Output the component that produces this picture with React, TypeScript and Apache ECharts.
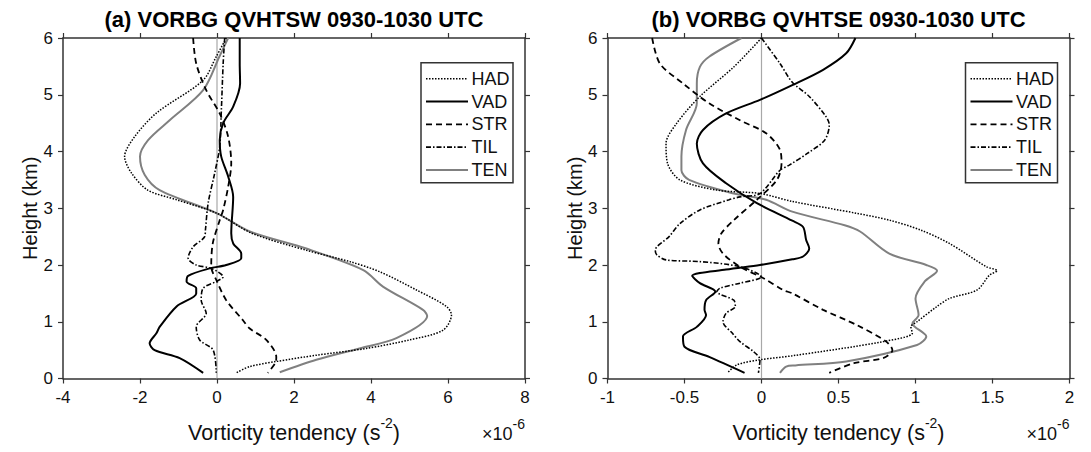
import React, { useEffect, useRef } from "react";
import * as echarts from "echarts";

// ---------- texts ----------
const TITLE_A = "(a) VORBG QVHTSW 0930-1030 UTC";
const TITLE_B = "(b) VORBG QVHTSE 0930-1030 UTC";
const SERIES_NAMES = ["HAD", "VAD", "STR", "TIL", "TEN"];
const Y_NAME = "Height (km)";

// ---------- axis ranges (x in units of 1e-6 s^-2, y in km) ----------
const X_RANGE_A = [-4, 8, 2];
const X_RANGE_B = [-1, 2, 0.5];
const Y_RANGE = [0, 6, 1];

// ---------- panel (a): [value, height] ----------
const HAD_A: [number, number][] = [
  [0.24, 6], [-0.02, 5.67], [-0.37, 5.25], [-1.57, 4.68], [-2.14, 4.26], [-2.4, 3.91],
  [-2.22, 3.62], [-1.8, 3.32], [-1.05, 3.15], [0, 2.91], [0.9, 2.56], [2.32, 2.26],
  [3.45, 2.06], [4.23, 1.88], [5.18, 1.56], [5.96, 1.27], [6.09, 1.12], [5.87, 0.85],
  [5.0, 0.68], [3.88, 0.53], [2.58, 0.41], [1.54, 0.3], [0.85, 0.21], [0.5, 0.1],
];
const VAD_A: [number, number][] = [
  [0.59, 6], [0.59, 5.55], [0.6, 5.2], [0.42, 4.79], [0.16, 4.5], [0.07, 4.2], [0.11, 3.91],
  [0.29, 3.56], [0.42, 3.2], [0.37, 2.56], [0.42, 2.38], [0.63, 2.2], [0.63, 2.12],
  [0.24, 2.0], [-0.19, 1.94], [-0.75, 1.81], [-0.79, 1.71], [-0.54, 1.59], [-0.54, 1.5],
  [-1.05, 1.27], [-1.49, 0.91], [-1.57, 0.8], [-1.75, 0.62], [-1.62, 0.5], [-0.97, 0.36],
  [-0.36, 0.1],
];
const STR_A: [number, number][] = [
  [-0.62, 6], [-0.54, 5.55], [-0.28, 5.08], [0.07, 4.67], [0.29, 4.26], [0.37, 3.79],
  [0.29, 3.38], [0.16, 2.97], [0.07, 2.79], [-0.11, 2.38], [-0.15, 1.97], [-0.02, 1.74],
  [0.24, 1.38], [0.67, 1.03], [0.85, 0.88], [1.28, 0.68], [1.54, 0.38], [1.52, 0.28],
  [1.32, 0.1],
];
const TIL_A: [number, number][] = [
  [0.2, 6], [0.16, 5.55], [0.11, 4.67], [0.07, 4.08], [-0.06, 3.62], [-0.23, 3.09],
  [-0.3, 2.62], [-0.32, 2.5], [-0.62, 2.32], [-0.75, 2.12], [-0.54, 2.0], [-0.15, 1.94],
  [0.16, 1.79], [-0.02, 1.71], [-0.36, 1.59], [-0.41, 1.38], [-0.28, 1.15], [-0.54, 0.91],
  [-0.45, 0.68], [-0.1, 0.5], [-0.02, 0.1],
];
const TEN_A: [number, number][] = [
  [0.29, 6], [0.06, 5.67], [-0.36, 5.08], [-1.23, 4.55], [-1.79, 4.2], [-2.0, 3.91],
  [-1.88, 3.59], [-1.49, 3.32], [0, 2.91], [0.85, 2.59], [2.32, 2.29], [3.8, 1.91],
  [4.31, 1.62], [5.35, 1.21], [5.46, 1.1], [4.66, 0.71], [3.7, 0.53], [2.58, 0.33],
  [1.63, 0.11],
];

// ---------- panel (b): [value, height] ----------
const HAD_B: [number, number][] = [
  [0, 6], [-0.18, 5.49], [-0.4, 4.97], [-0.55, 4.5], [-0.62, 4.14], [-0.61, 3.79],
  [-0.53, 3.5], [-0.29, 3.32], [-0.01, 3.26], [0.2, 3.12], [0.62, 2.91], [0.83, 2.79],
  [1.03, 2.62], [1.22, 2.38], [1.46, 1.97], [1.53, 1.9], [1.48, 1.82], [1.4, 1.56],
  [1.22, 1.41], [1.14, 1.27], [1.01, 1.0], [0.97, 0.91], [0.98, 0.8], [0.79, 0.65],
  [0.2, 0.4], [-0.01, 0.33], [-0.16, 0.24], [-0.22, 0.1],
];
const VAD_B: [number, number][] = [
  [0.61, 6], [0.55, 5.73], [0.4, 5.44], [0.2, 5.17], [-0.01, 4.91], [-0.23, 4.67],
  [-0.38, 4.38], [-0.42, 4.14], [-0.38, 3.79], [-0.23, 3.44], [-0.03, 3.09], [0.2, 2.78],
  [0.27, 2.67], [0.29, 2.44], [0.31, 2.29], [0.27, 2.15], [0.2, 2.1], [-0.01, 2.0],
  [-0.23, 1.92], [-0.45, 1.81], [-0.4, 1.68], [-0.3, 1.53], [-0.36, 1.38], [-0.37, 1.21],
  [-0.36, 1.12], [-0.42, 0.91], [-0.51, 0.74], [-0.5, 0.56], [-0.34, 0.38], [-0.11, 0.1],
];
const STR_B: [number, number][] = [
  [-0.71, 6], [-0.66, 5.55], [-0.51, 5.2], [-0.34, 4.85], [-0.14, 4.55], [0.03, 4.32],
  [0.12, 4.03], [0.13, 3.79], [0.1, 3.5], [-0.03, 3.15], [-0.18, 2.79], [-0.26, 2.56],
  [-0.28, 2.38], [-0.25, 2.2], [-0.14, 1.97], [0.01, 1.77], [0.14, 1.56], [0.2, 1.5],
  [0.4, 1.21], [0.62, 0.94], [0.81, 0.65], [0.85, 0.5], [0.79, 0.36], [0.6, 0.27],
  [0.44, 0.1],
];
const TIL_B: [number, number][] = [
  [0, 6], [0.12, 5.55], [0.2, 5.22], [0.31, 4.97], [0.42, 4.61], [0.44, 4.47], [0.41, 4.2],
  [0.3, 3.97], [0.18, 3.76], [0.12, 3.67], [-0.01, 3.26], [-0.14, 3.2], [-0.21, 3.15],
  [-0.4, 2.97], [-0.53, 2.73], [-0.6, 2.5], [-0.69, 2.26], [-0.68, 2.18], [-0.62, 2.09],
  [-0.4, 2.06], [-0.14, 1.97], [0, 1.79], [-0.14, 1.68], [-0.27, 1.59], [-0.29, 1.53],
  [-0.18, 1.38], [-0.17, 1.27], [-0.23, 1.15], [-0.25, 1.0], [-0.19, 0.8], [-0.14, 0.65],
  [-0.05, 0.47], [-0.01, 0.33], [-0.02, 0.1],
];
const TEN_B: [number, number][] = [
  [-0.13, 6], [-0.34, 5.67], [-0.4, 5.49], [-0.42, 5.2], [-0.42, 4.85], [-0.49, 4.38],
  [-0.52, 3.91], [-0.52, 3.67], [-0.47, 3.5], [-0.18, 3.26], [0.03, 3.15], [0.2, 2.94],
  [0.54, 2.7], [0.64, 2.59], [0.83, 2.2], [1.07, 2.0], [1.14, 1.9], [1.06, 1.71],
  [1.0, 1.41], [1.02, 1.12], [0.98, 0.97], [1.07, 0.74], [1.01, 0.59], [0.55, 0.3],
  [0.22, 0.23], [0.16, 0.21], [0.12, 0.1],
];

const ZERO_LINE: [number, number][] = [[0, 0], [0, 6]];

const FONT = "'Liberation Sans', Arial, Helvetica, sans-serif";

const LINE_STYLES: Record<string, any> = {
  HAD: { color: "#000", width: 1.5, type: [1.5, 1.5] },
  VAD: { color: "#000", width: 2, type: "solid" },
  STR: { color: "#000", width: 1.8, type: [6, 4] },
  TIL: { color: "#000", width: 1.6, type: [5, 2, 1.5, 2] },
  TEN: { color: "#808080", width: 2, type: "solid" },
};

const GRID_TOP = 38;
const GRID_H = 340.5;
const GRID_W = 462;
const GRID_LEFTS = [63, 607.5];

export default function App() {
  const ref = useRef<HTMLDivElement>(null);

  useEffect(() => {
    document.body.style.margin = "0";
    const chart = echarts.init(ref.current!, null, { renderer: "svg" });

    const axisLine = { show: true, onZero: false, lineStyle: { color: "#333", width: 1.5 } };
    const axisTick = { show: true, inside: false, length: 5, lineStyle: { color: "#333", width: 1.2 } };
    const tickLabel = { color: "#111", fontSize: 17, fontFamily: FONT };

    const xRanges = [X_RANGE_A, X_RANGE_B];
    const xAxes: any[] = [];
    const yAxes: any[] = [];
    [0, 1].forEach((g) => {
      const r = xRanges[g];
      xAxes.push({
        type: "value", gridIndex: g, position: "bottom", min: r[0], max: r[1], interval: r[2],
        axisLine, axisTick, splitLine: { show: false },
        axisLabel: { ...tickLabel, margin: 10 },
      });
      yAxes.push({
        type: "value", gridIndex: g, position: "left", min: Y_RANGE[0], max: Y_RANGE[1], interval: Y_RANGE[2],
        axisLine, axisTick, splitLine: { show: false },
        axisLabel: { ...tickLabel, margin: 10 },
      });
    });
    [0, 1].forEach((g) => {
      const r = xRanges[g];
      xAxes.push({
        type: "value", gridIndex: g, position: "top", min: r[0], max: r[1], interval: r[2],
        axisLine, axisTick, splitLine: { show: false }, axisLabel: { show: false },
      });
      yAxes.push({
        type: "value", gridIndex: g, position: "right", min: Y_RANGE[0], max: Y_RANGE[1],
        interval: Y_RANGE[2], axisLine, axisTick, splitLine: { show: false },
        axisLabel: { show: false },
      });
    });

    const panels = [
      { HAD: HAD_A, VAD: VAD_A, STR: STR_A, TIL: TIL_A, TEN: TEN_A },
      { HAD: HAD_B, VAD: VAD_B, STR: STR_B, TIL: TIL_B, TEN: TEN_B },
    ];
    const series: any[] = [];
    panels.forEach((p: any, g) => {
      series.push({
        type: "line", name: "zero" + g, xAxisIndex: g, yAxisIndex: g, data: ZERO_LINE,
        showSymbol: false, symbol: "none", z: 1, silent: true,
        lineStyle: { color: "#a8a8a8", width: 1.2 },
      });
      ["TEN", "STR", "TIL", "HAD", "VAD"].forEach((n) => {
        series.push({
          type: "line", name: n, xAxisIndex: g, yAxisIndex: g, data: p[n],
          showSymbol: false, symbol: "none", smooth: 0.3, z: 3,
          lineStyle: LINE_STYLES[n],
        });
      });
    });

    const supRich = (mainSize: number) => ({
      m: { fontSize: mainSize, fontFamily: FONT, lineHeight: 34, verticalAlign: "middle", fill: "#111" },
      s: { fontSize: 14, fontFamily: FONT, lineHeight: 14, verticalAlign: "top", fill: "#111" },
    });

    // graphic: titles, labels, legends
    const graphics: any[] = [];
    const titles = [TITLE_A, TITLE_B];
    [0, 1].forEach((g) => {
      const left = GRID_LEFTS[g];
      const cx = left + GRID_W / 2;
      graphics.push({
        type: "text", x: cx, y: 19,
        style: {
          text: titles[g], fill: "#000", font: `bold 22px ${FONT}`,
          textAlign: "center", textVerticalAlign: "middle", verticalAlign: "middle",
        },
      });
      graphics.push({
        type: "text", x: left - 33, y: GRID_TOP + GRID_H / 2, rotation: Math.PI / 2,
        style: {
          text: Y_NAME, fill: "#111", font: `20px ${FONT}`,
          textAlign: "center", textVerticalAlign: "middle", verticalAlign: "middle",
        },
      });
      graphics.push({
        type: "text", x: cx, y: 415.5,
        style: {
          text: "{m|Vorticity tendency (s}{s|-2}{m|)}",
          fill: "#111", textAlign: "center", textVerticalAlign: "top", verticalAlign: "top",
          rich: supRich(21.5),
        },
      });
      graphics.push({
        type: "text", x: left + GRID_W, y: 416.5,
        style: {
          text: "{m|\u00d710}{s|-6}",
          fill: "#111", textAlign: "right", textVerticalAlign: "top", verticalAlign: "top",
          rich: supRich(18),
        },
      });
      // legend
      const lx = left + GRID_W - 104;
      const ly = 62.7;
      const children: any[] = [
        {
          type: "rect", shape: { x: 0, y: 0, width: 92, height: 120 },
          style: { fill: "#fff", stroke: "#333", lineWidth: 1.5 },
        },
      ];
      SERIES_NAMES.forEach((n, i) => {
        const yy = 16 + i * 22.8;
        const ls = LINE_STYLES[n];
        children.push({
          type: "line", shape: { x1: 5, y1: yy, x2: 47, y2: yy },
          style: {
            stroke: ls.color, lineWidth: ls.width,
            lineDash: Array.isArray(ls.type) ? ls.type : null,
          },
        });
        children.push({
          type: "text", x: 50.5, y: yy,
          style: {
            text: n, fill: "#111", font: `18px ${FONT}`,
            textAlign: "left", textVerticalAlign: "middle", verticalAlign: "middle",
          },
        });
      });
      graphics.push({ type: "group", x: lx, y: ly, z: 100, children });
    });

    chart.setOption({
      animation: false,
      backgroundColor: "#fff",
      textStyle: { fontFamily: FONT },
      grid: GRID_LEFTS.map((l) => ({ left: l, top: GRID_TOP, width: GRID_W, height: GRID_H })),
      xAxis: xAxes,
      yAxis: yAxes,
      series,
      graphic: graphics,
    });

    return () => chart.dispose();
  }, []);

  return <div ref={ref} style={{ width: 1091, height: 452 }} />;
}
